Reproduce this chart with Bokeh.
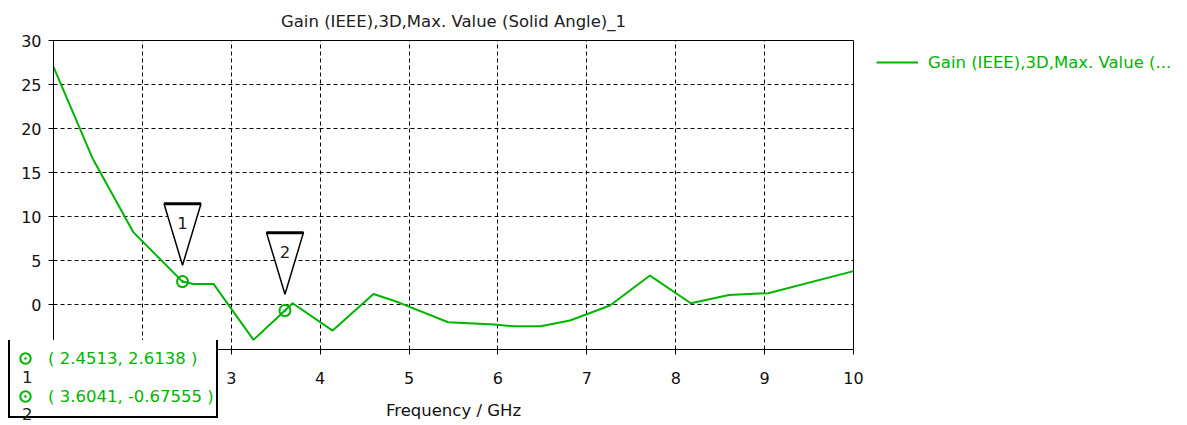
from bokeh.plotting import figure
from bokeh.layouts import column
from bokeh.models import Range1d, FixedTicker, Legend, LegendItem
from bokeh.embed import file_html
from bokeh.resources import INLINE
from bokeh.core.properties import value

# ---- data ----
freq = [1.0, 1.44, 1.90, 2.4513, 2.575, 2.80, 3.25, 3.6041, 3.69, 4.14, 4.60, 4.88,
        5.44, 5.96, 6.18, 6.48, 6.81, 7.26, 7.71, 8.17, 8.60, 9.04, 10.0]
gain = [27.0, 16.6, 8.2, 2.6138, 2.35, 2.35, -4.0, -0.67555, 0.15, -2.95, 1.2, 0.26,
        -2.0, -2.27, -2.46, -2.46, -1.8, -0.1, 3.3, 0.15, 1.1, 1.3, 3.8]
marker_ids = ["1", "2"]
marker_x = [2.4513, 3.6041]
marker_y = [2.6138, -0.67555]
x_ticks = [1, 2, 3, 4, 5, 6, 7, 8, 9, 10]
y_ticks = [0, 5, 10, 15, 20, 25, 30]
title_text = "Gain (IEEE),3D,Max. Value (Solid Angle)_1"
legend_text = "Gain (IEEE),3D,Max. Value (..."
x_label = "Frequency / GHz"

FONT = "DejaVu Sans"
GREEN = "#00b400"
FS = "16px"
FS2 = "16.5px"

p = figure(frame_width=800, frame_height=309, output_backend="svg", toolbar_location=None,
           x_range=Range1d(1, 10), y_range=Range1d(-5.1, 30),
           min_border_left=53, min_border_right=334, min_border_top=40, min_border_bottom=76,
           background_fill_color="white", border_fill_color="white")

p.title.text = title_text
p.title.align = "center"
p.title.text_font = FONT
p.title.text_font_size = FS2
p.title.text_font_style = "normal"
p.title.text_color = "#202020"
p.title.standoff = 19

p.outline_line_color = "black"
p.outline_line_width = 1
p.outline_line_alpha = 1

for ax in (p.xaxis[0], p.yaxis[0]):
    ax.axis_line_color = "black"
    ax.major_tick_line_color = "black"
    ax.minor_tick_line_color = None
    ax.major_tick_in = 0
    ax.major_tick_out = 5
    ax.major_label_text_font = FONT
    ax.major_label_text_font_size = FS
    ax.major_label_text_color = "#101010"
    ax.axis_label_text_font = FONT
    ax.axis_label_text_font_size = FS2
    ax.axis_label_text_font_style = "normal"
    ax.axis_label_text_color = "#101010"

p.xaxis.ticker = FixedTicker(ticks=x_ticks)
p.yaxis.ticker = FixedTicker(ticks=y_ticks)
p.xaxis.major_label_standoff = 17
p.xaxis.axis_label = x_label
p.xaxis.axis_label_standoff = 14
p.yaxis.major_label_standoff = 7

p.xgrid.ticker = FixedTicker(ticks=x_ticks)
p.ygrid.ticker = FixedTicker(ticks=y_ticks)
for g in (p.xgrid[0], p.ygrid[0]):
    g.grid_line_color = "black"
    g.grid_line_dash = "4 3"
    g.grid_line_width = 1

# curve
p.line(freq, gain, line_color=GREEN, line_width=2)

# marker points
p.scatter(marker_x, marker_y, marker="circle_dot", size=11, fill_color=None,
          line_color=GREEN, line_width=2)

# marker flags (inverted triangles); sizes in data units
HW = 0.208     # half width (GHz)
AP = 1.85      # apex offset above point
TH = 7.0       # triangle height
tri_xs = [[x - HW, x + HW, x] for x in marker_x]
tri_ys = [[y + AP + TH, y + AP + TH, y + AP] for y in marker_y]
p.patches(tri_xs, tri_ys, fill_color="white", line_color="black", line_width=1.5)
p.segment(x0=[x - HW for x in marker_x], y0=[y + AP + TH for y in marker_y],
          x1=[x + HW for x in marker_x], y1=[y + AP + TH for y in marker_y],
          line_color="black", line_width=3)
p.text(x=marker_x, y=[y + AP + TH - 2.2 for y in marker_y], text=marker_ids,
       text_font=value(FONT), text_font_size=FS2, text_align="center",
       text_baseline="middle", text_color="#202020")

# curve legend: small overlay figure at the right
lf = figure(frame_width=306, frame_height=24, min_border=0, output_backend="svg",
            toolbar_location=None, x_range=Range1d(-20, -19), y_range=Range1d(-90, -89),
            x_axis_type=None, y_axis_type=None, outline_line_color=None,
            background_fill_alpha=0, border_fill_alpha=0,
            styles={"position": "absolute", "left": "876px", "top": "50px", "z-index": "10"})
lcurve = lf.line(freq, gain, line_color=GREEN, line_width=2)
leg = Legend(items=[LegendItem(label=legend_text, renderers=[lcurve])],
             location=(0, 2), padding=0, margin=0, border_line_color=None,
             background_fill_alpha=0, glyph_width=42, glyph_height=20, label_height=20,
             label_standoff=10, label_text_font=FONT, label_text_font_size=FS2,
             label_text_color=GREEN)
lf.add_layout(leg)

# marker readout box: small overlay figure at the bottom left
mb = figure(frame_width=212, frame_height=85, min_border=0, output_backend="svg",
            toolbar_location=None, x_range=Range1d(-20, -19), y_range=Range1d(-90, -89),
            x_axis_type=None, y_axis_type=None, outline_line_color=None,
            background_fill_alpha=0, border_fill_alpha=0,
            styles={"position": "absolute", "left": "8px", "top": "340px", "z-index": "10"})
mk = mb.scatter(marker_x, marker_y, marker="circle_dot", size=11, fill_color=None,
                line_color=GREEN, line_width=2)
mleg = Legend(items=[LegendItem(label=f"( {marker_x[i]}, {marker_y[i]} )", renderers=[mk], index=i)
                     for i in range(len(marker_x))],
              location=(0, 7), padding=2, margin=0, border_line_color="black",
              border_line_width=2, border_line_alpha=1,
              background_fill_color="white", background_fill_alpha=1,
              glyph_width=26, glyph_height=36, label_height=36,
              spacing=2, label_standoff=10, label_text_font=FONT, label_text_font_size=FS2,
              label_text_color=GREEN)
mb.add_layout(mleg)

# marker numbers under the marker icons
nk = mb.scatter(marker_x, marker_y, size=1, alpha=0)
nleg = Legend(items=[LegendItem(label=marker_ids[i], renderers=[nk], index=i)
                     for i in range(len(marker_ids))],
              location=(13, -4), padding=0, margin=0, border_line_color=None,
              background_fill_alpha=0, glyph_width=1, glyph_height=30, label_height=30,
              spacing=7, label_standoff=0, label_text_font=FONT, label_text_font_size=FS2,
              label_text_color="#202020")
mb.add_layout(nleg)

root = column(p, lf, mb)
open("out.html", "w").write(file_html(root, INLINE))
